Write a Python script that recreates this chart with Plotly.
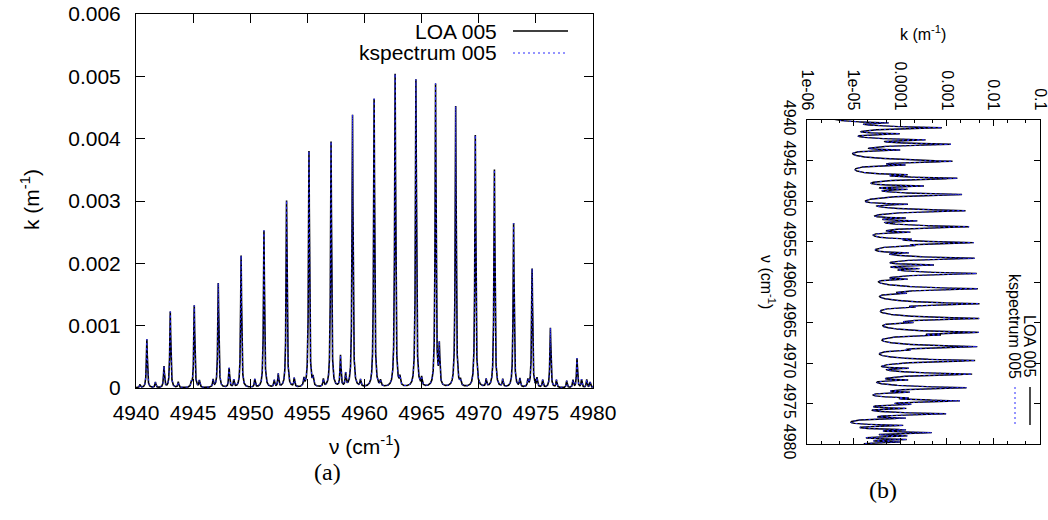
import numpy as np
import plotly.graph_objects as go

# ---------------- data ----------------
# absorption lines: centre wavenumber (cm-1) and peak absorption coefficient k (m-1)
line_centres = [
    4940.35, 4940.95, 4941.70, 4942.45, 4943.00, 4943.70, 4944.85, 4945.10,
    4945.55, 4946.75, 4947.20, 4948.15, 4948.56, 4949.20, 4950.40, 4951.20,
    4952.10, 4952.45, 4953.18, 4953.85, 4954.70, 4955.14, 4955.50, 4956.40,
    4957.07, 4957.90, 4958.35, 4958.95, 4959.65, 4960.84, 4961.40, 4962.68,
    4963.10, 4964.50, 4965.00, 4966.22, 4966.55, 4967.98, 4968.40, 4969.70,
    4970.65, 4971.37, 4972.10, 4973.05, 4973.60, 4974.30, 4974.67, 4975.10,
    4975.60, 4976.27, 4976.80, 4977.70, 4978.25, 4978.60, 4979.00, 4979.45,
    4979.75, 4980.20,
]
line_peaks = [
    0.00005, 0.00078, 0.00009, 0.00034, 0.00122, 0.00009, 0.00007, 0.00132,
    0.00011, 0.00012, 0.00168, 0.00031, 0.00012, 0.00212, 0.00013, 0.00252,
    0.00011, 0.00021, 0.00300, 0.00014, 0.00012, 0.00379, 0.00013, 0.00012,
    0.00395, 0.00050, 0.00021, 0.00438, 0.00011, 0.00463, 0.00009, 0.00503,
    0.00013, 0.00494, 0.00013, 0.00486, 0.00063, 0.00451, 0.00009, 0.00405,
    0.00012, 0.00350, 0.00012, 0.00264, 0.00013, 0.00011, 0.00191, 0.00014,
    0.00012, 0.00096, 0.00012, 0.00011, 0.00012, 0.00047, 0.00013, 0.00013,
    0.00009, 0.00020,
]
line_hwhm = 0.05  # cm-1, Lorentz half width

nu_ticks = [4940, 4945, 4950, 4955, 4960, 4965, 4970, 4975, 4980]
k_ticks = [0, 0.001, 0.002, 0.003, 0.004, 0.005, 0.006]
k_ticktext = ["0", "0.001", "0.002", "0.003", "0.004", "0.005", "0.006"]
klog_ticks = [1e-6, 1e-5, 1e-4, 1e-3, 1e-2, 1e-1]
klog_ticktext = ["1e-06", "1e-05", "0.0001", "0.001", "0.01", "0.1"]
series_names = ["LOA 005", "kspectrum 005"]

# ---------------- spectrum from the line list ----------------
nu = np.arange(4939.8, 4980.2, 0.004)
c = np.array(line_centres)[:, None]
p = np.array(line_peaks)[:, None]
k_loa = (p * line_hwhm**2 / ((nu[None, :] - c) ** 2 + line_hwhm**2)).sum(axis=0)
k_ksp = k_loa.copy()

W, H = 1048, 520
def px(x): return x / W
def py(y): return 1 - y / H

BLUE = "#2a2aff"
DOT = "2px,3px"
fig = go.Figure()
# left panel (linear)
fig.add_trace(go.Scatter(x=nu, y=k_loa, mode="lines", name=series_names[0],
                         line=dict(color="black", width=1.6), xaxis="x", yaxis="y"))
fig.add_trace(go.Scatter(x=nu, y=k_ksp, mode="lines", name=series_names[1],
                         line=dict(color=BLUE, width=1.0, dash=DOT), xaxis="x", yaxis="y"))
# right panel (log, rotated)
fig.add_trace(go.Scatter(x=k_loa, y=nu, mode="lines", name=series_names[0],
                         line=dict(color="black", width=1.4), xaxis="x2", yaxis="y2"))
fig.add_trace(go.Scatter(x=k_ksp, y=nu, mode="lines", name=series_names[1],
                         line=dict(color=BLUE, width=1.0, dash=DOT), xaxis="x2", yaxis="y2"))

axis_common = dict(showline=True, linecolor="black", linewidth=1, mirror="ticks",
                   showgrid=False, zeroline=False, ticks="inside", tickcolor="black",
                   automargin=False, ticklabeloverflow="allow")

fig.update_layout(
    template="none",
    width=W, height=H,
    margin=dict(l=0, r=0, t=0, b=0, pad=0, autoexpand=False),
    paper_bgcolor="white", plot_bgcolor="white", showlegend=False,
    font=dict(family="Liberation Sans, Arial, sans-serif", size=21, color="black"),
    xaxis=dict(domain=[px(136), px(593)], range=[4940, 4980], tickvals=nu_ticks,
               ticklen=9, anchor="y", ticklabelstandoff=6,
               tickfont=dict(size=21), **axis_common),
    yaxis=dict(domain=[py(388), py(14)], range=[0, 0.006], tickvals=k_ticks,
               ticktext=k_ticktext, ticklen=9, anchor="x", ticklabelstandoff=10,
               tickfont=dict(size=21), **axis_common),
    xaxis2=dict(domain=[px(807), px(1040)], type="log", range=[-6.0005, -0.9995], side="top",
                tickvals=klog_ticks, ticktext=klog_ticktext, tickangle=90, ticklen=6,
                anchor="y2", tickfont=dict(size=16), ticklabelstandoff=3,
                minor=dict(ticks="inside", ticklen=3, dtick="D2", tickcolor="black"),
                **axis_common),
    yaxis2=dict(domain=[py(444), py(120)], range=[4980, 4940], tickvals=nu_ticks,
                tickangle=90, ticklen=6, anchor="x2", tickfont=dict(size=16),
                ticklabelstandoff=3, **axis_common),
)

ann = []
def add_text(text, x, y, size=21, angle=0, family=None, xanchor="center", yanchor="middle"):
    d = dict(text=text, x=px(x), y=py(y), xref="paper", yref="paper", showarrow=False,
             textangle=angle, xanchor=xanchor, yanchor=yanchor, font=dict(size=size))
    if family:
        d["font"]["family"] = family
    ann.append(d)

# left panel titles & legend
add_text("k (m<sup>-1</sup>)", 30, 200, angle=-90)
add_text("ν (cm<sup>-1</sup>)", 364, 445)
add_text("(a)", 327, 472, size=24, family="Liberation Serif, DejaVu Serif, serif")
add_text(series_names[0], 499, 31, xanchor="right")
add_text(series_names[1], 499, 53, xanchor="right")
# right panel titles & legend
add_text("k (m<sup>-1</sup>)", 923, 33, size=16)
add_text("ν (cm<sup>-1</sup>)", 768, 282, size=16, angle=90)
add_text("(b)", 883, 490, size=24, family="Liberation Serif, DejaVu Serif, serif")
add_text(series_names[0], 1030, 346, size=16, angle=90)
add_text(series_names[1], 1015, 326, size=16, angle=90)
fig.update_layout(annotations=ann)

shapes = [
    dict(type="line", xref="paper", yref="paper", x0=px(513), x1=px(568), y0=py(31), y1=py(31),
         line=dict(color="black", width=1.6)),
    dict(type="line", xref="paper", yref="paper", x0=px(513), x1=px(568), y0=py(53), y1=py(53),
         line=dict(color=BLUE, width=1.2, dash=DOT)),
    dict(type="line", xref="paper", yref="paper", x0=px(1030), x1=px(1030), y0=py(387), y1=py(425),
         line=dict(color="black", width=1.4)),
    dict(type="line", xref="paper", yref="paper", x0=px(1015), x1=px(1015), y0=py(387), y1=py(425),
         line=dict(color=BLUE, width=1.0, dash=DOT)),
]
fig.update_layout(shapes=shapes)

fig.write_html(
    "out.html",
    config={"displayModeBar": False},
    post_script=(
        "document.documentElement.style.overflow='hidden';"
        "document.body.style.overflow='hidden';"
        "document.body.style.margin='0';"
    ),
)
